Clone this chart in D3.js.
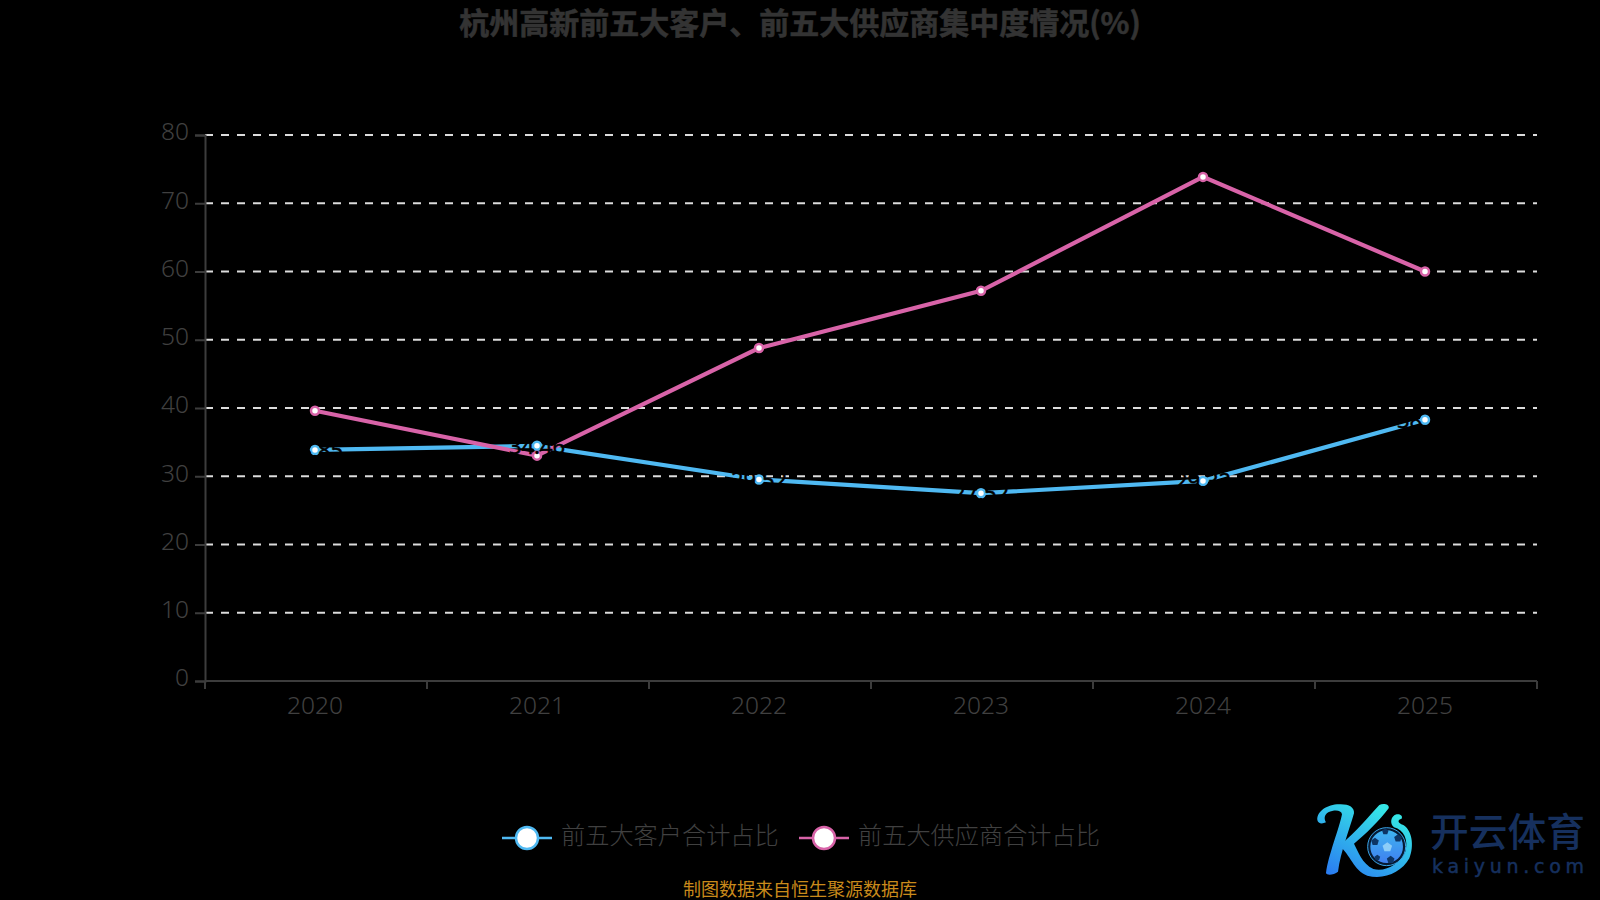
<!DOCTYPE html>
<html><head><meta charset="utf-8">
<script src="https://cdn.jsdelivr.net/npm/d3@7/dist/d3.min.js"></script>
<style>html,body{margin:0;padding:0;background:#000}svg{display:block}</style>
</head><body><svg id="c" width="1600" height="900"></svg>
<script>
const years=["2020","2021","2022","2023","2024","2025"];
const customers=[33.85,34.46,29.52,27.52,29.32,38.27];
const suppliers=[39.59,33.02,48.78,57.18,73.86,60.0];
const yTicks=[0,10,20,30,40,50,60,70,80];
const seriesNames=["前五大客户合计占比","前五大供应商合计占比"];
const seriesColors=["#4fb9f2","#d863a8"];
const titleText="杭州高新前五大客户、前五大供应商集中度情况(%)";
const sourceText="制图数据来自恒生聚源数据库";
const font='"Noto Sans CJK SC","Noto Sans",sans-serif';
const svg=d3.select("#c");
const x=d3.scaleBand().domain(years).range([204,1536]);
const y=d3.scaleLinear().domain([0,80]).range([681,135]);
const axisCol="#3c3c3c",txtCol="#333",lightCol="#404040";
svg.append("text").attr("x",800).attr("y",34).attr("text-anchor","middle")
 .attr("font-family",font).attr("font-size",30).attr("font-weight",700).attr("fill",txtCol)
 .attr("stroke",txtCol).attr("stroke-width",.6).text(titleText);
// grid
svg.append("g").selectAll("line").data(yTicks.filter(d=>d>0)).join("line")
 .attr("x1",205).attr("x2",1537).attr("y1",d=>y(d)).attr("y2",d=>y(d))
 .attr("stroke","#dcdcdc").attr("stroke-width",2).attr("stroke-dasharray","8 8");
// axes
const gy=svg.append("g").attr("transform","translate(205,0)")
 .call(d3.axisLeft(y).tickValues(yTicks).tickSize(10).tickPadding(6));
const gx=svg.append("g").attr("transform","translate(0,681)")
 .call(d3.axisBottom(x).tickSize(0).tickPadding(16));
gx.select(".domain").remove();
gx.append("line").attr("class","b0").attr("x1",205).attr("x2",1537);
gx.selectAll(".b").data(d3.range(7)).join("line").attr("class","b")
 .attr("x1",i=>205+i*x.bandwidth()).attr("x2",i=>205+i*x.bandwidth())
 .attr("y1",0).attr("y2",8);
[gy,gx].forEach(g=>{g.selectAll("path,line").attr("stroke",axisCol).attr("stroke-width",2);
 g.selectAll("text").attr("fill",lightCol).attr("font-size",24.5).attr("font-weight",300).attr("font-family",'"Noto Sans",sans-serif');
 g.select(".domain").attr("stroke",axisCol);});
gy.selectAll("text").attr("dy","0.2em");
const line=d3.line().x((d,i)=>x(years[i])+x.bandwidth()/2).y(d=>y(d));
[customers,suppliers].forEach((vals,k)=>{
 const g=svg.append("g");
 g.append("path").datum(vals).attr("d",line).attr("fill","none").attr("stroke",seriesColors[k]).attr("stroke-width",4.2);
 g.selectAll("circle").data(vals).join("circle")
  .attr("cx",(d,i)=>x(years[i])+x.bandwidth()/2).attr("cy",d=>y(d)).attr("r",4)
  .attr("fill","#fff").attr("stroke",seriesColors[k]).attr("stroke-width",2.5);
});
// black data labels: they only show where they cross the lines
customers.forEach((v,i)=>{
 svg.append("text").attr("x",x(years[i])+x.bandwidth()/2).attr("y",y(v)+8)
  .attr("text-anchor","middle").attr("font-family",'"Noto Sans",sans-serif').attr("font-size",22).attr("fill","#000")
  .attr("stroke","#000").attr("stroke-width",.5).text(v.toFixed(2));
});
// legend
const lg=[[527,seriesNames[0],561],[824,seriesNames[1],858]];
lg.forEach((d,k)=>{
 const g=svg.append("g");
 g.append("line").attr("x1",d[0]-25).attr("x2",d[0]+25).attr("y1",838).attr("y2",838).attr("stroke",seriesColors[k]).attr("stroke-width",2.5);
 g.append("circle").attr("cx",d[0]).attr("cy",838).attr("r",11).attr("fill","#fff").attr("stroke",seriesColors[k]).attr("stroke-width",2.5);
 g.append("text").attr("x",d[2]).attr("y",844).attr("font-family",font).attr("font-weight",300).attr("font-size",24.2).attr("fill",lightCol).text(d[1]);
});
svg.append("text").attr("x",800).attr("y",896).attr("text-anchor","middle").attr("font-family",font).attr("font-weight",400).attr("font-size",18).attr("fill","#c98a1b").text(sourceText);
// watermark
const defs=svg.append("defs");
const gr=defs.append("linearGradient").attr("id","kg").attr("gradientUnits","userSpaceOnUse")
 .attr("x1",60).attr("y1",250).attr("x2",180).attr("y2",20);
gr.append("stop").attr("offset","0").attr("stop-color","#2a78f2");
gr.append("stop").attr("offset","1").attr("stop-color","#35e6e6");
const gb=defs.append("linearGradient").attr("id","bg").attr("x1","0").attr("y1","0").attr("x2","0").attr("y2","1");
gb.append("stop").attr("offset","0").attr("stop-color","#3fb4f0");gb.append("stop").attr("offset","1").attr("stop-color","#3f80f0");
const m=svg.append("g").attr("transform","translate(1310,795) scale(.3333)");
m.append("path").attr("fill","url(#kg)").attr("d","M22 75 C20 48 55 26 92 28 C118 28 134 38 132 55 C118 105 92 170 84 230 C72 240 50 242 48 234 C55 180 88 100 96 58 C94 44 72 44 55 52 C42 60 42 72 48 82 C36 88 24 86 22 75 Z");
m.append("path").attr("fill","url(#kg)").attr("d","M88 152 C140 110 180 60 208 30 C220 24 240 28 236 40 C210 75 165 120 132 146 C145 170 155 205 190 222 C228 232 270 205 286 170 C296 135 282 105 252 97 C238 87 242 62 260 58 C272 56 280 64 274 72 C262 74 262 84 280 90 C305 105 314 150 298 190 C275 232 222 256 172 242 C130 225 122 180 88 152 Z");
m.append("circle").attr("cx",230).attr("cy",155).attr("r",57).attr("fill","#061a33").attr("stroke","#3aa4e6").attr("stroke-width",3);
m.append("circle").attr("cx",230).attr("cy",155).attr("r",49).attr("fill","url(#bg)");
const pent=[[232,157,15,"#8ccdf8"],[195,140,12,"#0d3565"],[264,130,12,"#0d3565"],[242,194,12,"#0d3565"],[202,188,9,"#0d3565"],[226,110,10,"#0d3565"]];
pent.forEach(p=>m.append("path").attr("d",d3.line().curve(d3.curveLinearClosed)(d3.range(5).map(i=>[p[0]+p[2]*Math.sin(i*1.2566),p[1]-p[2]*Math.cos(i*1.2566)]))).attr("fill",p[3]));
const t=svg.append("g");
t.append("text").attr("x",1430).attr("y",846).attr("font-family",font).attr("font-weight",500).attr("font-size",39).attr("textLength",155).attr("lengthAdjust","spacingAndGlyphs").attr("fill","#16305e").text("开云体育");
t.append("text").attr("x",1432).attr("y",873).attr("font-family",'"DejaVu Sans",sans-serif').attr("font-size",19).attr("textLength",152).attr("fill","#16305e").attr("stroke","#16305e").attr("stroke-width",.5).text("kaiyun.com");
</script></body></html>
